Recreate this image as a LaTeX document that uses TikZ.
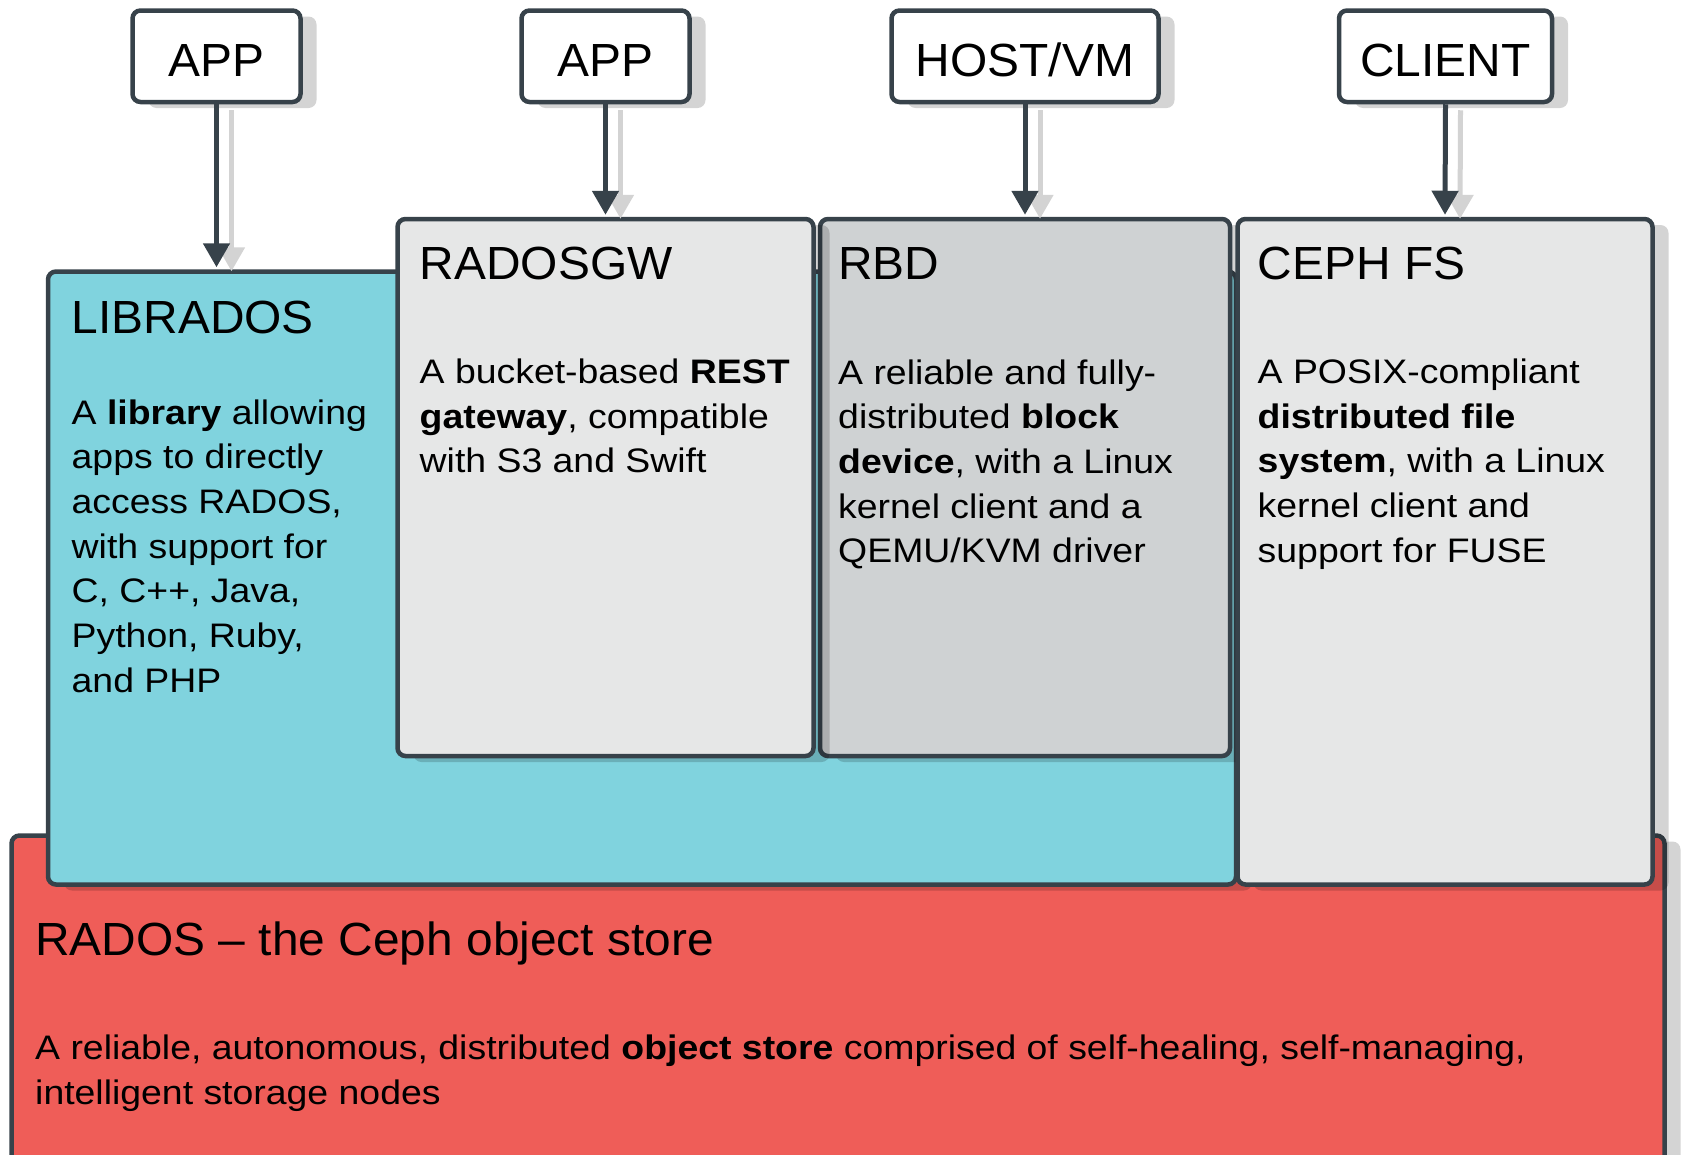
\documentclass[tikz,border=0pt]{standalone}
\usepackage{fontspec}
\setmainfont{Liberation Sans}
\newfontfamily\titlefont[FakeStretch=1.03]{Liberation Sans}
\newfontfamily\bodyfont[FakeStretch=1.1]{Liberation Sans}
\usetikzlibrary{arrows.meta,shadows}
\definecolor{edge}{HTML}{37424A}
\definecolor{cephteal}{HTML}{80D3DE}
\definecolor{cephred}{HTML}{EF5D58}
\definecolor{lightbox}{HTML}{E6E7E7}
\definecolor{rbdgray}{HTML}{CFD2D3}
\definecolor{shadowgray}{HTML}{D3D3D3}
\tikzset{
  cbox/.style={draw=edge, line width=4.5pt, rounded corners=8pt, inner sep=0pt,
    drop shadow={shadow xshift=16pt, shadow yshift=-6pt, fill=black, opacity=0.17}},
  topbox/.style={cbox, fill=white},
  ttl/.style={inner sep=0pt, anchor=base west, font=\titlefont\fontsize{46.5}{50}\selectfont},
  lbl/.style={inner sep=0pt, anchor=base, font=\titlefont\fontsize{46.5}{50}\selectfont},
  body/.style={inner sep=0pt, anchor=base west, font=\bodyfont\fontsize{34}{44.7}\selectfont},
  conn/.style={draw=edge, line width=5pt, -{Triangle[width=26pt,length=24pt]}},
  connshadow/.style={draw=shadowgray, line width=5pt, -{Triangle[width=26pt,length=24pt]}},
}
\newcommand{\bodytxt}[1]{\parbox[t]{1600pt}{\raggedright #1}}
\begin{document}
\begin{tikzpicture}[x=1pt, y=-1pt]
\useasboundingbox (0,0) rectangle (1704,1154);
\clip (0,0) rectangle (1704,1154);

% layers
\node[cbox, fill=cephred, minimum width=1653pt, minimum height=464.5pt] (rados) at (838,1067.75) {};
\node[cbox, fill=cephteal, minimum width=1188pt, minimum height=613pt] (librados) at (642,578) {};
\node[cbox, fill=rbdgray, minimum width=410pt, minimum height=537pt] (rbd) at (1025,487.5) {};
\node[cbox, fill=lightbox, minimum width=416pt, minimum height=537pt] (radosgw) at (605.5,487.5) {};
\node[cbox, fill=lightbox, minimum width=415pt, minimum height=665.5pt] (cephfs) at (1445,551.75) {};

% top boxes
\node[topbox, minimum width=168pt, minimum height=91.5pt] (app1) at (216.5,56.25) {};
\node[topbox, minimum width=168pt, minimum height=91.5pt] (app2) at (605.5,56.25) {};
\node[topbox, minimum width=267pt, minimum height=91.5pt] (host) at (1025,56.25) {};
\node[topbox, minimum width=213pt, minimum height=91.5pt] (client) at (1445.5,56.25) {};

\node[lbl] (t1) at (216.5,76) {APP};
\node[lbl] (t2) at (605.5,76) {APP};
\node[lbl] (t3) at (1025,76) {HOST/VM};
\node[lbl] (t4) at (1445.5,76) {CLIENT};

% titles
\node[ttl] (radosgwT) at (419.5,279.5) {RADOSGW};
\node[ttl] (rbdT) at (838,279.5) {RBD};
\node[ttl] (cephfsT) at (1257.5,279.5) {CEPH FS};
\node[ttl] (libradosT) at (71.5,333) {LIBRADOS};
\node[ttl] (radosT) at (35,955) {RADOS – the Ceph object store};

% bodies
\node[body] (radosgwB) at (419.5,383.5) {\bodytxt{A bucket-based \textbf{REST}\\\textbf{gateway}, compatible\\with S3 and Swift}};
\node[body] (rbdB) at (838,384) {\bodytxt{A reliable and fully-\\distributed \textbf{block}\\\textbf{device}, with a Linux\\kernel client and a\\QEMU/KVM driver}};
\node[body] (cephfsB) at (1257.5,383.5) {\bodytxt{A POSIX-compliant\\\textbf{distributed file}\\\textbf{system}, with a Linux\\kernel client and\\support for FUSE}};
\node[body] (libradosB) at (71.5,424) {\bodytxt{A \textbf{library} allowing\\apps to directly\\access RADOS,\\with support for\\C, C++, Java,\\Python, Ruby,\\and PHP}};
\node[body] (radosB) at (35,1059.5) {\bodytxt{A reliable, autonomous, distributed \textbf{object store} comprised of self-healing, self-managing,\\intelligent storage nodes}};

% connector shadows
\draw[connshadow] ([xshift=15pt,yshift=-6pt]app1.south) -- ([xshift=15pt,yshift=-2pt]app1.south |- librados.north);
\draw[connshadow] ([xshift=15pt,yshift=-6pt]app2.south) -- ([xshift=15pt,yshift=-2pt]radosgw.north);
\draw[connshadow] ([xshift=15pt,yshift=-6pt]host.south) -- ([xshift=15pt,yshift=-2pt]rbd.north);
\draw[connshadow] ([xshift=15pt,yshift=-6pt]client.south) -- ([xshift=15pt,yshift=-2pt]cephfs.north);
% connectors
\draw[conn] (app1.south) -- ([yshift=2pt]app1.south |- librados.north);
\draw[conn] (app2.south) -- ([yshift=2pt]radosgw.north);
\draw[conn] (host.south) -- ([yshift=2pt]rbd.north);
\draw[conn] (client.south) -- ([yshift=2pt]cephfs.north);
\end{tikzpicture}
\end{document}
